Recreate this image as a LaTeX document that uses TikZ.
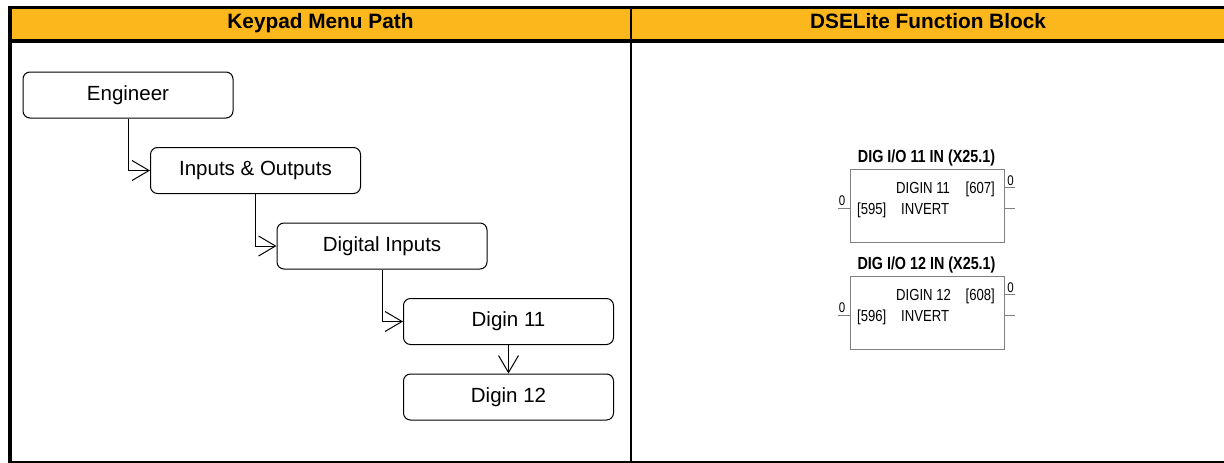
\documentclass[tikz,border=0pt]{standalone}
\usepackage{fontspec}
\setmainfont{Liberation Sans}
\newfontfamily\fbfont{Liberation Sans}[FakeStretch=0.82]
\usetikzlibrary{arrows.meta}
\definecolor{hdr}{RGB}{252,183,28}
\definecolor{fbgray}{RGB}{128,128,128}
\begin{document}
\begin{tikzpicture}[x=1pt,y=-1pt,
  menu/.style={draw=black, line width=1pt, rounded corners=7pt, minimum width=210pt, minimum height=46pt, font=\fontsize{20.5}{24}\selectfont, inner sep=0pt},
  link/.style={draw=black, line width=1pt, -{Straight Barb[length=17pt,width=20pt]}},
  fbbox/.style={draw=fbgray, line width=1pt, minimum width=154pt, minimum height=73pt, inner sep=0pt},
  fbtitle/.style={font=\fbfont\bfseries\fontsize{17.5}{20}\selectfont, inner sep=0pt},
  fbtext/.style={font=\fbfont\fontsize{16}{18}\selectfont, inner sep=0pt},
  fbsmall/.style={font=\fbfont\fontsize{14}{16}\selectfont, inner sep=0pt},
  stub/.style={draw=fbgray, line width=0.8pt},
  hdrtext/.style={font=\bfseries\fontsize{20.8}{24}\selectfont, inner sep=0pt},
  rule/.style={draw=black}
]
\useasboundingbox (0,0) rectangle (1224,463);
% table
\fill[hdr] (12,9) rectangle (1224,39);
\draw[rule, line width=3pt] (8,7.5) -- (1224,7.5);
\draw[rule, line width=4pt] (10,41) -- (1224,41);
\draw[rule, line width=4pt] (10,6) -- (10,463);
\draw[rule, line width=2.5pt] (631,6) -- (631,463);
\draw[rule, line width=2.5pt] (8,462) -- (1224,462);
\node[hdrtext, anchor=base] (h1) at (320.5,28) {Keypad Menu Path};
\node[hdrtext, anchor=base] (h2) at (928,28) {DSELite Function Block};
% menu path
\node[menu] (eng) at (128,95) {Engineer};
\node[menu] (io) at (255.5,170.5) {Inputs \& Outputs};
\node[menu] (di) at (382,246) {Digital Inputs};
\node[menu] (d11) at (508.5,321.5) {Digin 11};
\node[menu] (d12) at (508.5,397) {Digin 12};
\draw[link] (eng.south) |- (io.west);
\draw[link] (io.south) |- (di.west);
\draw[link] (di.south) |- (d11.west);
\draw[link] (d11.south) -- (d12.north);
% function block 1
\node[fbbox] (fb1) at (927,205.5) {};
\node[fbtitle, anchor=base] (t1) at (926.5,162.5) {DIG I/O 11 IN (X25.1)};
\node[fbtext, anchor=base west] (n1) at (896,193) {DIGIN 11};
\node[fbtext, anchor=base east] (p1) at (995,193) {[607]};
\node[fbtext, anchor=base west] (i1) at (857,214) {[595]};
\node[fbtext, anchor=base west] (v1) at (901,214) {INVERT};
\coordinate (in1) at (838,208.5);
\draw[stub] (in1) -- (in1 -| fb1.west);
\node[fbsmall, anchor=base] (z1) at (842,205.5) {0};
\coordinate (o1a) at (1015,187);
\draw[stub] (fb1.east |- o1a) -- (o1a);
\node[fbsmall, anchor=base] (z2) at (1010.5,185) {0};
\coordinate (o1b) at (1015,208.5);
\draw[stub] (fb1.east |- o1b) -- (o1b);
% function block 2
\node[fbbox] (fb2) at (927,312.5) {};
\node[fbtitle, anchor=base] (t2) at (926.5,269.5) {DIG I/O 12 IN (X25.1)};
\node[fbtext, anchor=base west] (n2) at (896,300) {DIGIN 12};
\node[fbtext, anchor=base east] (p2) at (995,300) {[608]};
\node[fbtext, anchor=base west] (i2) at (857,321) {[596]};
\node[fbtext, anchor=base west] (v2) at (901,321) {INVERT};
\coordinate (in2) at (838,315.5);
\draw[stub] (in2) -- (in2 -| fb2.west);
\node[fbsmall, anchor=base] (z3) at (842,312.5) {0};
\coordinate (o2a) at (1015,294);
\draw[stub] (fb2.east |- o2a) -- (o2a);
\node[fbsmall, anchor=base] (z4) at (1010.5,292) {0};
\coordinate (o2b) at (1015,315.5);
\draw[stub] (fb2.east |- o2b) -- (o2b);
\end{tikzpicture}
\end{document}
